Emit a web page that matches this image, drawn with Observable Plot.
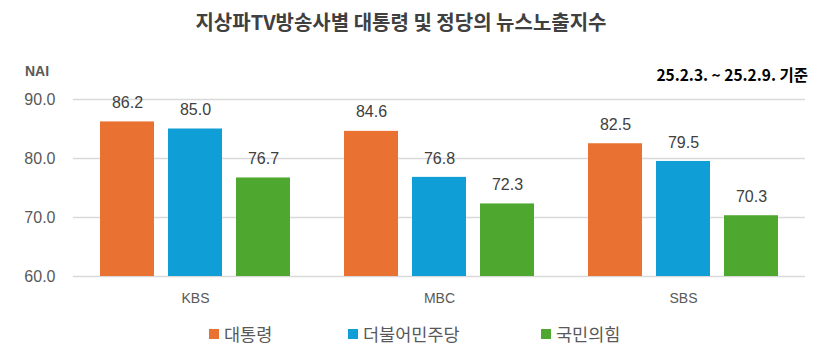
<!DOCTYPE html>
<html><head><meta charset="utf-8">
<script src="https://cdn.jsdelivr.net/npm/d3@7"></script>
<script src="https://cdn.jsdelivr.net/npm/@observablehq/plot@0.6"></script>
<style>
body{margin:0;background:#fff;}
#wrap{position:relative;width:821px;height:358px;overflow:hidden;font-family:"Liberation Sans","Noto Sans CJK KR",sans-serif;}
#title{position:absolute;left:0;width:802px;top:9px;text-align:center;font-family:"Noto Sans CJK KR",sans-serif;font-weight:700;font-size:20px;line-height:26px;color:#404040;}
#nai{position:absolute;left:25px;top:63px;font-weight:700;font-size:14px;line-height:16px;color:#595959;font-family:"Liberation Sans",sans-serif;}
#date{position:absolute;right:13px;top:64px;font-weight:700;font-size:15.5px;line-height:20px;color:#000;font-family:"Noto Sans CJK KR",sans-serif;}
#chart{position:absolute;left:0;top:0;}
.lg{position:absolute;top:321px;display:flex;align-items:center;font-family:"Noto Sans CJK KR",sans-serif;font-size:17.5px;line-height:26px;color:#595959;}
.lg i{display:inline-block;width:10px;height:10px;margin-right:5px;}
</style></head>
<body><div id="wrap">
<div id="title">지상파TV방송사별 대통령 및 정당의 뉴스노출지수</div>
<div id="nai">NAI</div>
<div id="date">25.2.3. ~ 25.2.9. 기준</div>
<div id="chart"></div>
</div>
<script>
const stations = ["KBS", "MBC", "SBS"];
const parties = ["대통령", "더불어민주당", "국민의힘"];
const colors = ["#E97132", "#0F9ED5", "#4EA72E"];
const president = [86.2, 84.6, 82.5];
const democratic = [85.0, 76.8, 79.5];
const ppp = [76.7, 72.3, 70.3];
const yTicks = [60, 70, 80, 90];
const baseline = 60;

const seriesValues = [president, democratic, ppp];
const rows = [];
parties.forEach((p, i) => stations.forEach((s, j) => rows.push({station: s, party: p, value: seriesValues[i][j]})));

const step = 68;
const barMarks = parties.flatMap((p, i) => {
  const d = rows.filter(r => r.party === p);
  return [
    Plot.barY(d, {x: "station", y1: () => baseline, y2: "value", fill: colors[i], insetLeft: 68, insetRight: 68, dx: (i - 1) * step}),
    Plot.text(d, {x: "station", y: "value", text: r => r.value.toFixed(1), dx: (i - 1) * step, dy: -19, fill: "#404040", fontSize: 16})
  ];
});

const chart = Plot.plot({
  width: 821,
  height: 310,
  marginLeft: 73,
  marginRight: 16,
  marginTop: 99,
  marginBottom: 34,
  style: {fontFamily: "Liberation Sans, Arial, sans-serif", background: "transparent"},
  x: {domain: stations, paddingInner: 0.221, paddingOuter: 0.11},
  y: {domain: [60, 90]},
  marks: [
    Plot.gridY(yTicks, {stroke: "#d9d9d9", strokeOpacity: 1, strokeWidth: 1.6}),
    ...barMarks,
    Plot.axisY(yTicks, {tickSize: 0, tickPadding: 18, tickFormat: d3.format(".1f"), fontSize: 16, fill: "#595959", label: null}),
    Plot.axisX({tickSize: 0, tickPadding: 17, fontSize: 14, fill: "#595959", label: null})
  ]
});
document.getElementById("chart").appendChild(chart);

const lefts = [209, 348, 541];
parties.forEach((p, i) => {
  const el = document.createElement("div");
  el.className = "lg";
  el.style.left = lefts[i] + "px";
  el.innerHTML = `<i style="background:${colors[i]}"></i><span>${p}</span>`;
  document.getElementById("wrap").appendChild(el);
});
</script>
</body></html>
